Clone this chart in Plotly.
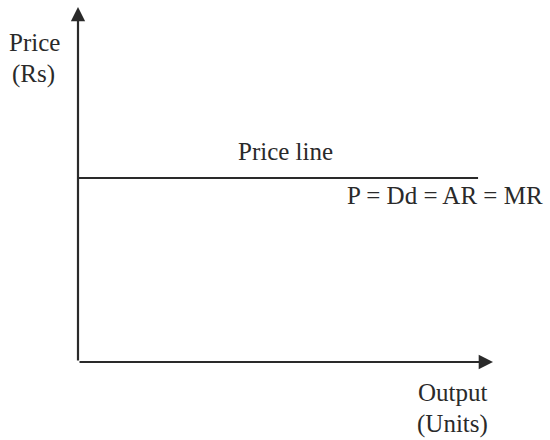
import plotly.graph_objects as go

# axis extents (data units) and the horizontal price line
x_axis_end = [0, 10]
y_axis_end = [0, 10]
price_level = 5.18
price_line_x = [0, 9.64]
price_line_y = [price_level, price_level]

ink = '#2a2a2a'
serif = 'Liberation Serif, Times New Roman, serif'

fig = go.Figure()

fig.add_trace(go.Scatter(
    x=price_line_x, y=price_line_y, mode='lines',
    line=dict(color=ink, width=2), hoverinfo='skip', showlegend=False
))

# axes as arrows
fig.add_annotation(x=x_axis_end[1], y=0, ax=x_axis_end[0], ay=0,
                   xref='x', yref='y', axref='x', ayref='y', text='',
                   showarrow=True, arrowhead=2, arrowsize=1.3,
                   arrowwidth=2.2, arrowcolor=ink)
fig.add_annotation(x=0, y=y_axis_end[1], ax=0, ay=y_axis_end[0],
                   xref='x', yref='y', axref='x', ayref='y', text='',
                   showarrow=True, arrowhead=2, arrowsize=1.3,
                   arrowwidth=2.2, arrowcolor=ink)

labels = [
    ('Price line', 5.01, 5.92),
    ('P = Dd = AR = MR', 8.85, 4.7),
]
for text, x, y in labels:
    fig.add_annotation(x=x, y=y, xref='x', yref='y', text=text,
                       showarrow=False, xanchor='center', yanchor='middle',
                       font=dict(family=serif, size=25, color=ink))

# axis titles (paper coordinates)
titles = [
    ('Price', -0.105, 0.901),
    ('(Rs)', -0.108, 0.811),
    ('Output', 0.903, -0.085),
    ('(Units)', 0.903, -0.175),
]
for text, x, y in titles:
    fig.add_annotation(x=x, y=y, xref='paper', yref='paper', text=text,
                       showarrow=False, xanchor='center', yanchor='middle',
                       font=dict(family=serif, size=25, color=ink))

fig.update_xaxes(range=x_axis_end, visible=False, showgrid=False, zeroline=False)
fig.update_yaxes(range=y_axis_end, visible=False, showgrid=False, zeroline=False)

fig.update_layout(
    width=550, height=440,
    margin=dict(l=78, r=57, t=7, b=78),
    plot_bgcolor='white', paper_bgcolor='white',
    showlegend=False
)

# page body margin would shift the figure by 8px
fig.write_html('out.html', config={'displayModeBar': False},
               post_script="document.body.style.margin='0';")
